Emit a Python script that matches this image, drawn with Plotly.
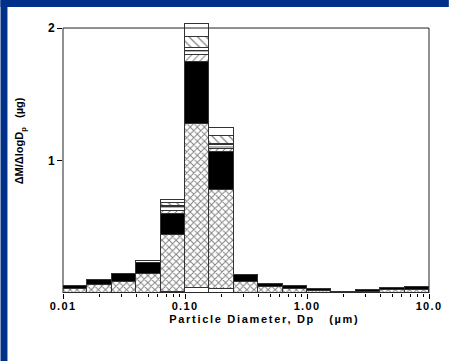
import numpy as np
import plotly.graph_objects as go

# ---- data -------------------------------------------------------------
bin_lower_um = [0.01, 0.0158, 0.0251, 0.0398, 0.0631, 0.1, 0.158, 0.251,
                0.398, 0.631, 1.0, 1.58, 2.51, 3.98, 6.31]
bin_upper_um = [0.0158, 0.0251, 0.0398, 0.0631, 0.1, 0.158, 0.251, 0.398,
                0.631, 1.0, 1.58, 2.51, 3.98, 6.31, 10.0]

# segment heights (ug), bottom to top of each stacked bar
layer_white_base = [0, 0, 0, 0, 0.01, 0.035, 0.03, 0, 0, 0, 0, 0, 0, 0, 0]
layer_crosshatch = [0.028, 0.06, 0.083, 0.143, 0.43, 1.24, 0.747, 0.083,
                    0.043, 0.028, 0.017, 0.003, 0.01, 0.02, 0.023]
layer_black = [0.027, 0.038, 0.057, 0.082, 0.16, 0.47, 0.29, 0.053,
               0.025, 0.025, 0.016, 0.007, 0.013, 0.018, 0.022]
layer_diag = [0, 0, 0, 0, 0.02, 0.055, 0.02, 0, 0, 0, 0, 0, 0, 0, 0]
layer_horiz = [0, 0, 0, 0, 0.03, 0.03, 0.03, 0, 0, 0, 0, 0, 0, 0, 0]
layer_thin = [0, 0, 0, 0, 0.01, 0.02, 0.01, 0, 0, 0, 0, 0, 0, 0, 0]
layer_zigzag = [0, 0, 0, 0, 0.02, 0.08, 0.058, 0, 0, 0, 0, 0, 0, 0, 0]
layer_white_top = [0, 0, 0, 0.015, 0.02, 0.10, 0.06, 0, 0, 0, 0, 0, 0, 0, 0]

x_tick_vals = [0.01, 0.1, 1.0, 10.0]
x_tick_text = ["0.01", "0.10", "1.00", "10.0"]
y_tick_vals = [1, 2]

# ---- figure -------------------------------------------------------------
lo = np.log10(bin_lower_um)
hi = np.log10(bin_upper_um)
centers = (lo + hi) / 2
widths = hi - lo

FONT = "Liberation Sans, Arial, sans-serif"
BLUE = "#003087"
W, H = 452, 361
ML, MR, MT, MB = 63, 20, 21, 68
PW, PH = W - ML - MR, H - MT - MB


def nz(v):
    return [val if val > 0 else None for val in v]


def pat(shape, size, solidity):
    return dict(shape=shape, size=size, solidity=solidity, fgcolor="black",
                bgcolor="white", fillmode="overlay")


layers = [
    (layer_white_base, dict(color="white")),
    (layer_crosshatch, dict(color="white", pattern=pat("x", 5, 0.35))),
    (layer_black, dict(color="black")),
    (layer_diag, dict(color="white", pattern=pat("/", 5, 0.2))),
    (layer_horiz, dict(color="white", pattern=pat("-", 4, 0.3))),
    (layer_thin, dict(color="white")),
    (layer_zigzag, dict(color="white", pattern=pat("\\", 6, 0.2))),
    (layer_white_top, dict(color="white")),
]

fig = go.Figure()
for vals, mk in layers:
    mk = dict(mk)
    mk["line"] = dict(color="#333333", width=1)
    fig.add_trace(go.Bar(x=centers, y=nz(vals), width=widths, marker=mk,
                         showlegend=False, hoverinfo="skip"))

minor_vals = [np.log10(m * d) for d in [0.01, 0.1, 1.0] for m in range(2, 10)]

fig.update_layout(
    width=W, height=H,
    margin=dict(l=ML, r=MR, t=MT, b=MB, pad=0),
    barmode="stack", bargap=0,
    paper_bgcolor="white", plot_bgcolor="white",
    font=dict(family=FONT, color="black", size=11),
    xaxis=dict(range=[-2, 1], tickvals=list(np.log10(x_tick_vals)), ticktext=x_tick_text,
               ticks="outside", ticklen=5, tickwidth=1, tickcolor="black",
               ticklabelstandoff=-2,
               showgrid=False, zeroline=False, showline=False,
               tickfont=dict(size=11, weight="bold", family=FONT),
               minor=dict(tickvals=minor_vals, ticks="outside", ticklen=3, tickcolor="black", showgrid=False)),
    yaxis=dict(range=[0, 2.053], tickvals=y_tick_vals, ticktext=[str(v) for v in y_tick_vals],
               ticks="outside", ticklen=5, tickwidth=1, tickcolor="black",
               showgrid=False, zeroline=False, showline=False,
               tickfont=dict(size=12, weight="bold", family=FONT)),
)

# plot frame (y from 0 to 2)
fig.add_shape(type="rect", xref="paper", yref="y", x0=0, x1=1, y0=0, y1=2,
              line=dict(color="#222222", width=1), layer="above")


def px_x(p):
    return (p - ML) / PW


def px_y(p):
    return (H - MB - p) / PH


# blue border strips (top and left)
fig.add_shape(type="rect", xref="paper", yref="paper", x0=px_x(0), x1=px_x(W), y0=px_y(7), y1=px_y(0),
              fillcolor=BLUE, line=dict(width=0), layer="above")
fig.add_shape(type="rect", xref="paper", yref="paper", x0=px_x(0), x1=px_x(7), y0=px_y(H), y1=px_y(0),
              fillcolor=BLUE, line=dict(width=0), layer="above")

fig.add_annotation(text="<b>Particle Diameter, Dp   (µm)</b>", xref="paper", yref="paper",
                   x=px_x(266), y=px_y(319), showarrow=False, xanchor="center", yanchor="middle",
                   font=dict(size=11, family=FONT))
fig.add_annotation(text="<b>ΔM/ΔlogD<sub>p</sub>   (µg)</b>", xref="paper", yref="paper",
                   x=px_x(20), y=px_y(141), showarrow=False, xanchor="center", yanchor="middle",
                   textangle=-90, font=dict(size=11, family=FONT))

# widen letter spacing of the x-axis texts as in the reference
post = """
var gd = document.getElementsByClassName('plotly-graph-div')[0];
function spacing(){
  gd.querySelectorAll('.xtick text').forEach(function(t){t.style.letterSpacing='1.3px';});
  var a = gd.querySelectorAll('.annotation[data-index="0"] text');
  a.forEach(function(t){t.style.letterSpacing='1.7px';});
}
spacing();
gd.on('plotly_afterplot', spacing);
"""

fig.write_html("out.html", post_script=post)
